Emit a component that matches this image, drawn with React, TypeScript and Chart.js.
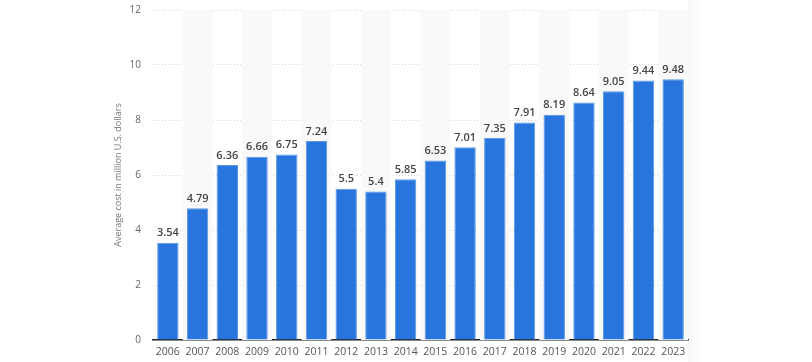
import React, { useEffect, useRef } from "react";
import { Chart, registerables } from "chart.js";

Chart.register(...registerables);

const years = ["2006","2007","2008","2009","2010","2011","2012","2013","2014","2015","2016","2017","2018","2019","2020","2021","2022","2023"];
const costs = [3.54,4.79,6.36,6.66,6.75,7.24,5.5,5.4,5.85,6.53,7.01,7.35,7.91,8.19,8.64,9.05,9.44,9.48];
const yTicks = [0,2,4,6,8,10,12];
const yTitle = "Average cost in million U.S. dollars";

const stripePlugin = {
  id: "stripes",
  beforeDatasetsDraw(chart: any) {
    const { ctx, chartArea, scales } = chart;
    const x = scales.x;
    const w = (chartArea.right - chartArea.left) / years.length;
    ctx.save();
    ctx.fillStyle = "#f9f9f9";
    years.forEach((_, i) => {
      if (i % 2 === 1) {
        const c = x.getPixelForValue(i);
        ctx.fillRect(c - w / 2, chartArea.top, w, chartArea.bottom - chartArea.top);
      }
    });
    ctx.restore();
  },
  beforeDraw(chart: any) {
    const { ctx, chartArea } = chart;
    ctx.save();
    const g = ctx.createLinearGradient(chartArea.right, 0, chartArea.right + 14, 0);
    g.addColorStop(0, "rgba(0,0,0,0.03)");
    g.addColorStop(1, "rgba(0,0,0,0)");
    ctx.fillStyle = g;
    ctx.fillRect(chartArea.right, 0, 14, chart.height);
    ctx.restore();
  },
};

const labelPlugin = {
  id: "barLabels",
  afterDatasetsDraw(chart: any) {
    const { ctx } = chart;
    const meta = chart.getDatasetMeta(0);
    ctx.save();
    ctx.font = "600 11px 'Open Sans', sans-serif";
    ctx.fillStyle = "#444";
    ctx.textAlign = "center";
    ctx.textBaseline = "bottom";
    meta.data.forEach((bar: any, i: number) => {
      ctx.fillText(String(costs[i]), bar.x, bar.y - 4);
    });
    ctx.restore();
  },
};

export default function App() {
  const ref = useRef<HTMLCanvasElement>(null);
  useEffect(() => {
    document.body.style.margin = "0";
    const chart = new Chart(ref.current!, {
      type: "bar",
      data: {
        labels: years,
        datasets: [
          {
            data: costs,
            backgroundColor: "#2876dd",
            borderColor: "#5a97e6",
            borderWidth: { top: 1, left: 1, right: 1, bottom: 0 },
            barPercentage: 0.72,
            categoryPercentage: 1,
          },
        ],
      },
      options: {
        animation: false,
        responsive: false,
        layout: { padding: { left: 113, right: 124, top: 10, bottom: 0 } },
        plugins: { legend: { display: false }, tooltip: { enabled: false } },
        scales: {
          x: {
            grid: { display: false, drawTicks: false },
            border: { display: true, color: "#222", width: 1.5 },
            ticks: {
              color: "#555",
              font: { family: "'Open Sans', sans-serif", size: 10.5 },
              padding: 6,
              maxRotation: 0,
              autoSkip: false,
            },
            afterFit: (s: any) => { s.height = 22; s.paddingLeft = 0; s.paddingRight = 0; },
          },
          y: {
            min: 0,
            max: 12,
            afterBuildTicks: (s: any) => { s.ticks = yTicks.map((v) => ({ value: v })); },
            grid: { color: "#d4d4d4", drawTicks: false },
            border: { display: false, dash: [1, 2] },
            ticks: {
              color: "#666",
              font: { family: "'Open Sans', sans-serif", size: 10 },
              padding: 12,
            },
            title: {
              display: true,
              text: yTitle,
              color: "#777",
              font: { family: "'Open Sans', sans-serif", size: 9 },
              padding: 0,
            },
            afterFit: (s: any) => { s.width = 40; s.paddingTop = 0; s.paddingBottom = 0; },
          },
        },
      },
      plugins: [stripePlugin, labelPlugin],
    });
    return () => chart.destroy();
  }, []);
  return (
    <div style={{ width: 812, height: 362 }}>
      <canvas ref={ref} width={812} height={362} style={{ display: "block" }} />
    </div>
  );
}
